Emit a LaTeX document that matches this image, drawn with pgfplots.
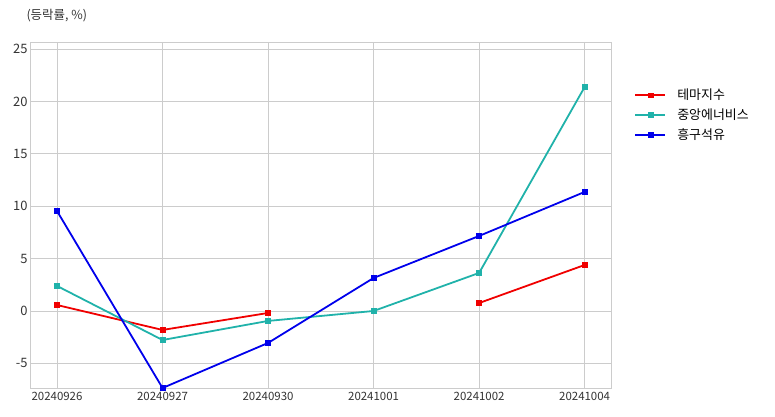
\documentclass[border=0pt]{standalone}
\usepackage{pgfplots}
\pgfplotsset{compat=1.18}
\usepackage{fontspec}
\setmainfont{Noto Sans CJK KR}
\definecolor{cred}{RGB}{240,0,0}
\definecolor{cteal}{RGB}{32,178,170}
\definecolor{cblue}{RGB}{0,0,235}
\definecolor{cgrid}{RGB}{204,204,204}
\begin{document}
\begin{tikzpicture}[x=1bp,y=1bp]
\useasboundingbox (0,0) rectangle (775,416);
\begin{axis}[
  at={(30bp,28bp)}, anchor=south west,
  scale only axis, width=581bp, height=346bp,
  xmin=-0.256, xmax=5.25, ymin=-7.35, ymax=25.67,
  xtick={0,1,2,3,4,5},
  xticklabels={20240926,20240927,20240930,20241001,20241002,20241004},
  ytick={-5,0,5,10,15,20,25},
  grid=major, grid style={cgrid, line width=0.8pt},
  axis line style={cgrid, line width=0.8pt},
  tick style={draw=none},
  /pgf/number format/assume math mode=true,
  x tick label style={font=\fontsize{11.5}{12}\selectfont, text=black!80, yshift=-1bp},
  y tick label style={font=\fontsize{13}{14}\selectfont, text=black!80},
  xticklabel shift=0pt, yticklabel shift=-1pt,
  legend style={at={(1.035,0.876)}, anchor=north west, draw=none, fill=none,
    font=\fontsize{13}{14}\selectfont, row sep=3.5bp,
    /tikz/every even column/.append style={column sep=5bp}},
  legend cell align=left,
  legend image code/.code={\draw[mark repeat=2,mark phase=2,#1,line width=1.8pt] plot coordinates {(0bp,0bp) (15bp,0bp) (30bp,0bp)};},
  unbounded coords=jump,
  clip=false,
]
\addplot[cred, line width=1.8pt, mark=square*, mark size=2.4bp, mark options={fill=cred, line width=0.5pt}] coordinates {(0,0.57) (1,-1.81) (2,-0.19) (3,nan) (4,0.76) (5,4.39)};
\addlegendentry{\hspace{9bp}테마지수}
\addplot[cteal, line width=1.8pt, mark=square*, mark size=2.4bp, mark options={fill=cteal, line width=0.5pt}] coordinates {(0,2.39) (1,-2.77) (2,-0.95) (3,0.0) (4,3.63) (5,21.37)};
\addlegendentry{\hspace{9bp}중앙에너비스}
\addplot[cblue, line width=1.8pt, mark=square*, mark size=2.4bp, mark options={fill=cblue, line width=0.5pt}] coordinates {(0,9.54) (1,-7.35) (2,-3.05) (3,3.15) (4,7.16) (5,11.36)};
\addlegendentry{\hspace{9bp}흥구석유}
\end{axis}
\node[anchor=west, font=\fontsize{12.5}{13}\selectfont, text=black!80] at (23,400) {(등락률, \%)};
\end{tikzpicture}
\end{document}
